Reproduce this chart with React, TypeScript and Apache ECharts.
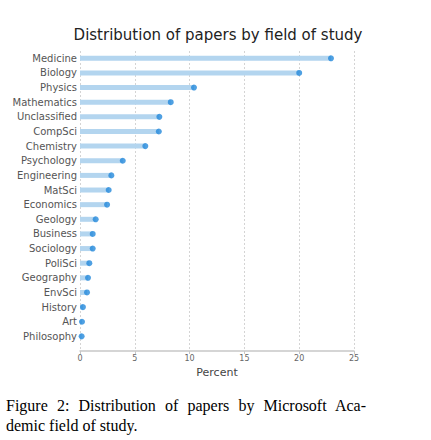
import React, { useEffect, useRef } from "react";
import * as echarts from "echarts";

const categories = [
  "Medicine", "Biology", "Physics", "Mathematics", "Unclassified", "CompSci",
  "Chemistry", "Psychology", "Engineering", "MatSci", "Economics", "Geology",
  "Business", "Sociology", "PoliSci", "Geography", "EnvSci", "History", "Art", "Philosophy",
];
const percents = [
  22.9, 20.0, 10.4, 8.28, 7.24, 7.19, 5.96, 3.9, 2.86, 2.62, 2.47, 1.43,
  1.16, 1.16, 0.85, 0.73, 0.64, 0.27, 0.18, 0.15,
];
const xTicks = [0, 5, 10, 15, 20, 25];
const titleText = "Distribution of papers by field of study";
const xName = "Percent";
const captionLines = [
  "Figure 2:  Distribution of papers by Microsoft Aca-",
  "demic field of study.",
];

export default function App() {
  const ref = useRef<HTMLDivElement>(null);
  useEffect(() => {
    if (!ref.current) return;
    const chart = echarts.init(ref.current, null, { renderer: "svg" });
    const data = percents.map((v, i) => [v, i]);
    const font = "DejaVu Sans";
    chart.setOption({
      animation: false,
      backgroundColor: "#ffffff",
      title: {
        text: titleText,
        left: 213,
        top: 22,
        textAlign: "center",
        textStyle: { fontFamily: font, fontSize: 15, fontWeight: "normal", color: "#222" },
      },
      grid: { left: 80, right: 77, top: 51, bottom: 89, containLabel: false },
      xAxis: {
        type: "value",
        min: xTicks[0],
        max: xTicks[xTicks.length - 1],
        interval: 5,
        name: xName,
        nameLocation: "middle",
        nameGap: 13,
        nameTextStyle: { fontFamily: font, fontSize: 11, color: "#444" },
        axisLine: { show: true, onZero: false, lineStyle: { color: "#c8c8c8", width: 1.5 } },
        axisTick: { show: true, length: 3, lineStyle: { color: "#c8c8c8" } },
        axisLabel: { fontFamily: font, fontSize: 8, color: "#666", margin: 3 },
        splitLine: { show: true, lineStyle: { color: "#d4d4d4", type: [2, 2], width: 1 } },
      },
      yAxis: {
        type: "value",
        inverse: true,
        min: -0.5,
        max: categories.length,
        axisLine: { show: false },
        axisTick: { show: false },
        splitLine: { show: false },
        axisLabel: {
          customValues: categories.map((_, i) => i),
          formatter: (v: number) => categories[Math.round(v)] ?? "",
          fontFamily: font,
          fontSize: 10,
          color: "#555",
          margin: 3,
        },
      },
      series: [
        {
          type: "custom",
          data,
          renderItem: (params: any, api: any) => {
            const p0 = api.coord([0, api.value(1)]);
            const p1 = api.coord([api.value(0), api.value(1)]);
            return {
              type: "rect",
              shape: { x: p0[0], y: p0[1] - 2.5, width: p1[0] - p0[0], height: 5 },
              style: { fill: "#b3d5ef" },
            };
          },
          z: 2,
        },
        {
          type: "scatter",
          data,
          symbol: "circle",
          symbolSize: 6,
          itemStyle: { color: "#2388db" },
          z: 3,
        },
      ],
    });
    return () => chart.dispose();
  }, []);
  const capStyle: React.CSSProperties = {
    position: "absolute",
    left: 6,
    width: 360,
    fontFamily: "'Liberation Serif', serif",
    fontSize: 16,
    lineHeight: "20px",
    color: "#000",
    whiteSpace: "nowrap",
  };
  return (
    <div style={{ position: "fixed", left: 0, top: 0, width: 431, height: 440, background: "#fff" }}>
      <div ref={ref} style={{ position: "absolute", left: 0, top: 0, width: 431, height: 440 }} />
      <div style={{ ...capStyle, top: 396, textAlign: "justify", textAlignLast: "justify", whiteSpace: "normal" }}>
        {captionLines[0]}
      </div>
      <div style={{ ...capStyle, top: 416 }}>{captionLines[1]}</div>
    </div>
  );
}
